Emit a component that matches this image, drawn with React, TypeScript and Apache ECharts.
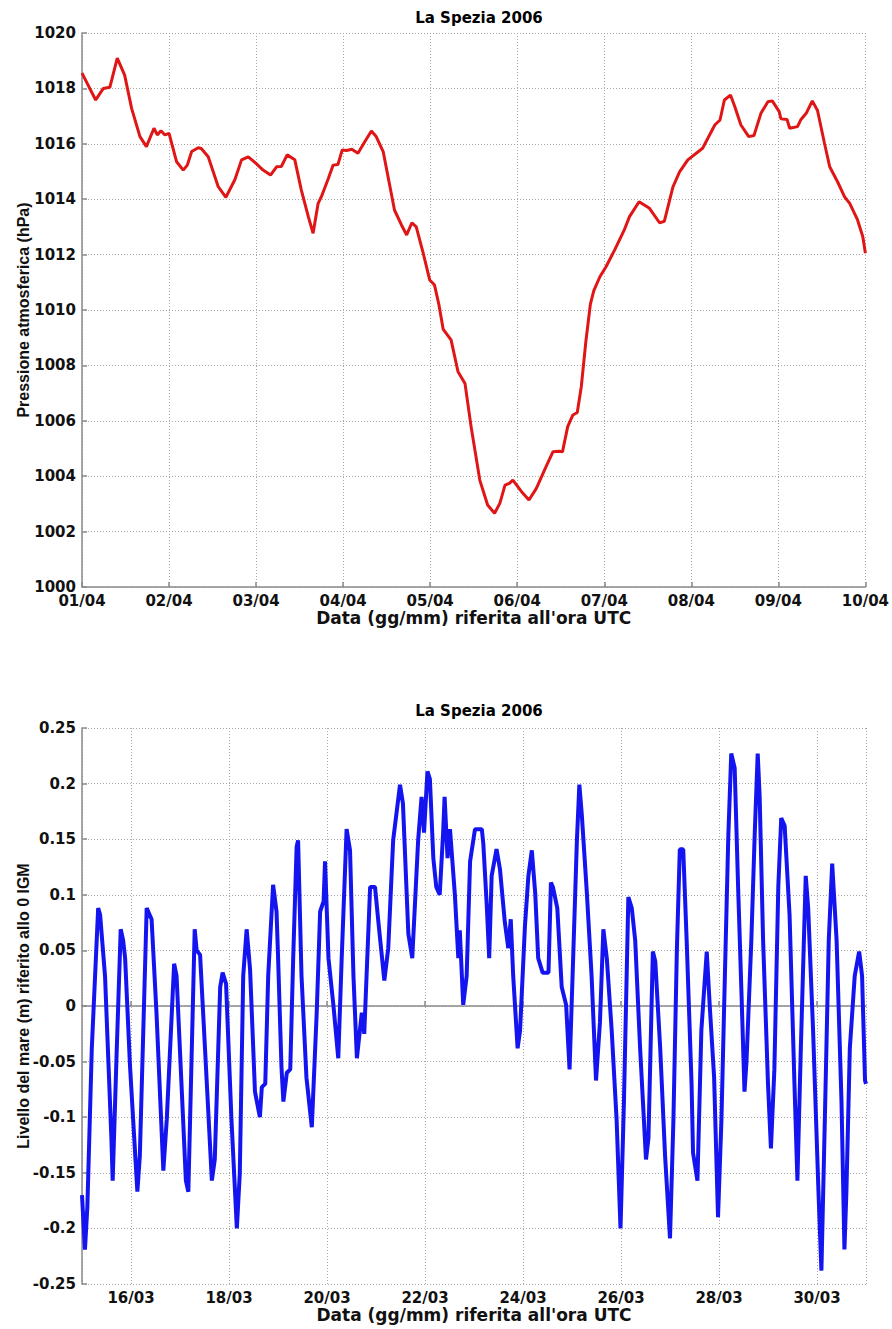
import React, { useEffect, useRef } from "react";
import * as echarts from "echarts";

// ---------- Top chart: atmospheric pressure (days since 01/04 00:00 UTC) ----------
const pressureTime = [
  0, 0.157, 0.245, 0.32, 0.405, 0.49, 0.57, 0.666, 0.74, 0.827, 0.865, 0.907, 0.953, 1.0,
  1.087, 1.163, 1.21, 1.26, 1.335, 1.37, 1.45, 1.565, 1.653, 1.756, 1.833, 1.91, 1.986,
  2.08, 2.166, 2.235, 2.29, 2.357, 2.445, 2.52, 2.6, 2.655, 2.713, 2.75, 2.83, 2.885, 2.94,
  2.99, 3.04, 3.1, 3.17, 3.25, 3.325, 3.38, 3.46, 3.516, 3.59, 3.67, 3.73, 3.79, 3.84, 3.92,
  3.995, 4.05, 4.1, 4.15, 4.24, 4.32, 4.4, 4.47, 4.57, 4.66, 4.74, 4.8, 4.86, 4.91, 4.95,
  5.05, 5.135, 5.22, 5.33, 5.41, 5.48, 5.52, 5.58, 5.64, 5.69, 5.736, 5.79, 5.84, 5.88,
  5.95, 6.02, 6.12, 6.23, 6.29, 6.4, 6.52, 6.635, 6.69, 6.79, 6.865, 6.96, 7.13, 7.27,
  7.33, 7.38, 7.45, 7.5, 7.57, 7.66, 7.72, 7.8, 7.88, 7.93, 8.01, 8.03, 8.1, 8.13, 8.22,
  8.26, 8.32, 8.39, 8.45, 8.53, 8.59, 8.68, 8.76, 8.82, 8.91, 8.97, 9.0,
];
const pressureValue = [
  1018.55, 1017.58, 1018.0, 1018.04, 1019.09, 1018.48, 1017.28, 1016.26, 1015.9, 1016.56,
  1016.32, 1016.47, 1016.32, 1016.38, 1015.35, 1015.05, 1015.23, 1015.72, 1015.86, 1015.83,
  1015.53, 1014.45, 1014.07, 1014.7, 1015.42, 1015.53, 1015.33, 1015.05, 1014.87, 1015.17,
  1015.18, 1015.6, 1015.42, 1014.33, 1013.37, 1012.77, 1013.85, 1014.09, 1014.75, 1015.23,
  1015.25, 1015.78, 1015.76, 1015.8, 1015.66, 1016.08, 1016.46, 1016.26, 1015.72, 1014.81,
  1013.61, 1013.07, 1012.71, 1013.15, 1013.0, 1012.05, 1011.08, 1010.9, 1010.2, 1009.3,
  1008.92, 1007.77, 1007.35, 1005.79, 1003.86, 1002.96, 1002.66, 1003.02, 1003.68, 1003.74,
  1003.86, 1003.44, 1003.14, 1003.56, 1004.34, 1004.88, 1004.9, 1004.88, 1005.79, 1006.21,
  1006.3, 1007.23, 1008.9, 1010.2, 1010.7, 1011.2, 1011.56, 1012.17, 1012.89, 1013.37,
  1013.91, 1013.67, 1013.15, 1013.2, 1014.45, 1014.99, 1015.42, 1015.84, 1016.68, 1016.86,
  1017.58, 1017.76, 1017.34, 1016.68, 1016.26, 1016.3, 1017.1, 1017.52, 1017.55, 1017.16,
  1016.9, 1016.88, 1016.56, 1016.62, 1016.88, 1017.1, 1017.55, 1017.2, 1016.02, 1015.17,
  1014.63, 1014.09, 1013.85, 1013.25, 1012.65, 1012.05,
];
const pressureDateLabels = [
  "01/04", "02/04", "03/04", "04/04", "05/04", "06/04", "07/04", "08/04", "09/04", "10/04",
];

// ---------- Bottom chart: sea level (days since 15/03 00:00 UTC) ----------
const seaTime = [
  0.0, 0.06, 0.11, 0.2, 0.33, 0.37, 0.47, 0.6, 0.626, 0.71, 0.79, 0.84, 0.88, 0.98, 1.13,
  1.18, 1.32, 1.42, 1.52, 1.66, 1.73, 1.88, 1.93, 2.03, 2.12, 2.17, 2.3, 2.34, 2.41, 2.51,
  2.65, 2.71, 2.82, 2.87, 2.94, 3.05, 3.16, 3.22, 3.29, 3.36, 3.43, 3.53, 3.63, 3.67, 3.74,
  3.8, 3.9, 3.97, 4.0, 4.07, 4.11, 4.18, 4.25, 4.31, 4.38, 4.41, 4.48, 4.58, 4.69, 4.79,
  4.86, 4.93, 4.96, 5.03, 5.13, 5.23, 5.3, 5.4, 5.47, 5.54, 5.61, 5.71, 5.76, 5.88, 5.98,
  6.05, 6.17, 6.25, 6.35, 6.49, 6.55, 6.66, 6.74, 6.86, 6.93, 6.98, 7.05, 7.1, 7.17, 7.23,
  7.3, 7.37, 7.4, 7.46, 7.51, 7.61, 7.68, 7.71, 7.78, 7.85, 7.92, 8.02, 8.09, 8.16, 8.19,
  8.26, 8.31, 8.36, 8.46, 8.53, 8.63, 8.7, 8.75, 8.8, 8.89, 8.94, 9.04, 9.11, 9.18, 9.25,
  9.31, 9.4, 9.52, 9.57, 9.61, 9.7, 9.79, 9.88, 9.95, 10.03, 10.1, 10.15, 10.2, 10.3, 10.4,
  10.49, 10.57, 10.64, 10.71, 10.81, 10.91, 10.99, 11.06, 11.15, 11.22, 11.29, 11.39, 11.51,
  11.56, 11.65, 11.7, 11.8, 11.9, 12.0, 12.07, 12.14, 12.2, 12.27, 12.34, 12.44, 12.47,
  12.56, 12.64, 12.75, 12.81, 12.9, 12.98, 13.05, 13.12, 13.19, 13.25, 13.32, 13.39, 13.46,
  13.52, 13.56, 13.66, 13.73, 13.79, 13.83, 13.9, 14.0, 14.06, 14.13, 14.21, 14.27, 14.34,
  14.44, 14.54, 14.6, 14.67, 14.77, 14.82, 14.92, 15.03, 15.09, 15.16, 15.24, 15.31, 15.4,
  15.5, 15.56, 15.6, 15.67, 15.77, 15.86, 15.92, 15.98, 16.0,
];
const seaValue = [
  -0.17, -0.219, -0.18, -0.038, 0.088, 0.082, 0.027, -0.119, -0.157, -0.038, 0.069, 0.059,
  0.043, -0.054, -0.167, -0.135, 0.088, 0.078, -0.006, -0.148, -0.102, 0.038, 0.027, -0.07,
  -0.157, -0.167, 0.069, 0.05, 0.046, -0.038, -0.157, -0.138, 0.017, 0.03, 0.02, -0.102,
  -0.2, -0.151, 0.027, 0.069, 0.033, -0.077, -0.1, -0.073, -0.07, 0.027, 0.109, 0.085,
  0.046, -0.054, -0.086, -0.06, -0.057, 0.043, 0.143, 0.149, 0.027, -0.064, -0.109, -0.006,
  0.085, 0.094, 0.13, 0.043, 0.001, -0.047, 0.043, 0.159, 0.14, 0.027, -0.047, -0.006,
  -0.025, 0.107, 0.107, 0.075, 0.023, 0.052, 0.149, 0.199, 0.182, 0.065, 0.043, 0.149,
  0.188, 0.156, 0.211, 0.204, 0.133, 0.107, 0.1, 0.156, 0.188, 0.133, 0.159, 0.1, 0.043,
  0.068, 0.001, 0.027, 0.13, 0.159, 0.159, 0.159, 0.146, 0.091, 0.043, 0.117, 0.141, 0.123,
  0.075, 0.052, 0.078, 0.027, -0.038, -0.022, 0.072, 0.117, 0.14, 0.101, 0.043, 0.03, 0.03,
  0.111, 0.107, 0.088, 0.017, 0.001, -0.057, 0.052, 0.149, 0.199, 0.172, 0.104, 0.027,
  -0.067, -0.015, 0.069, 0.043, -0.022, -0.102, -0.2, -0.086, 0.098, 0.088, 0.059, -0.038,
  -0.138, -0.119, 0.049, 0.04, -0.038, -0.135, -0.209, -0.102, 0.05, 0.141, 0.141, 0.059,
  -0.07, -0.132, -0.157, -0.022, 0.049, 0.001, -0.064, -0.19, -0.102, 0.027, 0.153, 0.227,
  0.214, 0.107, 0.01, -0.077, -0.051, 0.059, 0.156, 0.227, 0.188, 0.059, -0.07, -0.128,
  -0.057, 0.107, 0.169, 0.162, 0.082, -0.07, -0.157, -0.038, 0.117, 0.088, -0.022, -0.167,
  -0.238, -0.102, 0.059, 0.128, 0.059, -0.086, -0.219, -0.167, -0.038, 0.027, 0.049, 0.027,
  -0.067, -0.07,
];
const seaDateLabels = ["16/03", "18/03", "20/03", "22/03", "24/03", "26/03", "28/03", "30/03"];

const chartTitle = "La Spezia 2006";
const xAxisName = "Data (gg/mm) riferita all'ora UTC";
const pressureAxisName = "Pressione atmosferica (hPa)";
const seaAxisName = "Livello del mare (m) riferito allo 0 IGM";

const FONT = '"DejaVu Sans", sans-serif';
const NARROW_FONT = '"Liberation Sans", Arial, sans-serif';

export default function App() {
  const ref = useRef<HTMLDivElement>(null);

  useEffect(() => {
    if (!ref.current) return;
    const chart = echarts.init(ref.current, null, { renderer: "svg" });

    const pressureData = pressureTime.map((t, i) => [1 + t, pressureValue[i]]);
    const seaData = seaTime.map((t, i) => [15 + t, seaValue[i]]);

    const axisLineStyle = { color: "#8a8a8a", width: 1.5 };
    const gridLine = { show: true, lineStyle: { color: "#a8a8a8", width: 1, type: [1, 2] as any } };
    const labelStyle = {
      color: "#111",
      fontFamily: FONT,
      fontWeight: "bold" as const,
      fontSize: 15,
      lineHeight: 14,
    };
    const xNameStyle = {
      color: "#111",
      fontFamily: FONT,
      fontWeight: "bold" as const,
      fontSize: 17,
      lineHeight: 16,
    };
    const yNameStyle = {
      color: "#111",
      fontFamily: NARROW_FONT,
      fontWeight: "bold" as const,
      fontSize: 16,
    };

    chart.setOption({
      animation: false,
      backgroundColor: "#fff",
      title: [
        {
          text: chartTitle,
          left: 474,
          top: 5,
          textAlign: "center",
          textStyle: { color: "#000", fontFamily: FONT, fontWeight: "bold", fontSize: 15 },
        },
        {
          text: chartTitle,
          left: 474,
          top: 698,
          textAlign: "center",
          textStyle: { color: "#000", fontFamily: FONT, fontWeight: "bold", fontSize: 15 },
        },
      ],
      grid: [
        { left: 82, top: 33, width: 784, height: 554 },
        { left: 82, top: 728, width: 784, height: 556 },
      ],
      xAxis: [
        {
          type: "value",
          gridIndex: 0,
          min: 1,
          max: 10,
          interval: 1,
          name: xAxisName,
          nameLocation: "middle",
          nameGap: 23,
          nameMoveOverlap: false,
          nameTextStyle: xNameStyle,
          axisLine: { show: true, lineStyle: axisLineStyle },
          axisTick: { show: true, inside: true, length: 5, lineStyle: axisLineStyle },
          axisLabel: {
            ...labelStyle,
            margin: 7,
            formatter: (v: number) => pressureDateLabels[Math.round(v) - 1] ?? "",
          },
          splitLine: gridLine,
        },
        {
          type: "value",
          gridIndex: 1,
          min: 15,
          max: 31,
          splitNumber: 8,
          name: xAxisName,
          nameLocation: "middle",
          nameGap: 23,
          nameMoveOverlap: false,
          nameTextStyle: xNameStyle,
          axisLine: { show: true, lineStyle: axisLineStyle },
          axisTick: { show: true, inside: true, length: 5, lineStyle: axisLineStyle },
          axisLabel: {
            ...labelStyle,
            margin: 7,
            showMinLabel: false,
            showMaxLabel: false,
            formatter: (v: number) => {
              const d = Math.round(v);
              if (d % 2 !== 0) return "";
              return seaDateLabels[(d - 16) / 2] ?? "";
            },
          },
          splitLine: gridLine,
        },
      ],
      yAxis: [
        {
          type: "value",
          gridIndex: 0,
          min: 1000,
          max: 1020,
          interval: 2,
          name: pressureAxisName,
          nameLocation: "middle",
          nameGap: 51,
          nameMoveOverlap: false,
          nameTextStyle: yNameStyle,
          axisLine: { show: true, lineStyle: axisLineStyle },
          axisTick: { show: true, inside: true, length: 5, lineStyle: axisLineStyle },
          axisLabel: { ...labelStyle, margin: 6, formatter: (v: number) => String(v) },
          splitLine: gridLine,
        },
        {
          type: "value",
          gridIndex: 1,
          min: -0.25,
          max: 0.25,
          interval: 0.05,
          name: seaAxisName,
          nameLocation: "middle",
          nameGap: 51,
          nameMoveOverlap: false,
          nameTextStyle: yNameStyle,
          axisLine: { show: true, lineStyle: axisLineStyle },
          axisTick: { show: true, inside: true, length: 5, lineStyle: axisLineStyle },
          axisLabel: {
            ...labelStyle,
            margin: 6,
            formatter: (v: number) => String(parseFloat(v.toFixed(2))),
          },
          splitLine: gridLine,
        },
      ],
      series: [
        {
          type: "line",
          xAxisIndex: 0,
          yAxisIndex: 0,
          data: pressureData,
          showSymbol: false,
          lineStyle: { color: "#e01515", width: 3 },
          smooth: false,
        },
        {
          type: "line",
          xAxisIndex: 1,
          yAxisIndex: 1,
          data: seaData,
          showSymbol: false,
          lineStyle: { color: "#1414f0", width: 4 },
          smooth: false,
        },
      ],
    });

    return () => chart.dispose();
  }, []);

  return (
    <div
      ref={ref}
      style={{ position: "absolute", left: 0, top: 0, width: 892, height: 1329, background: "#fff" }}
    />
  );
}
